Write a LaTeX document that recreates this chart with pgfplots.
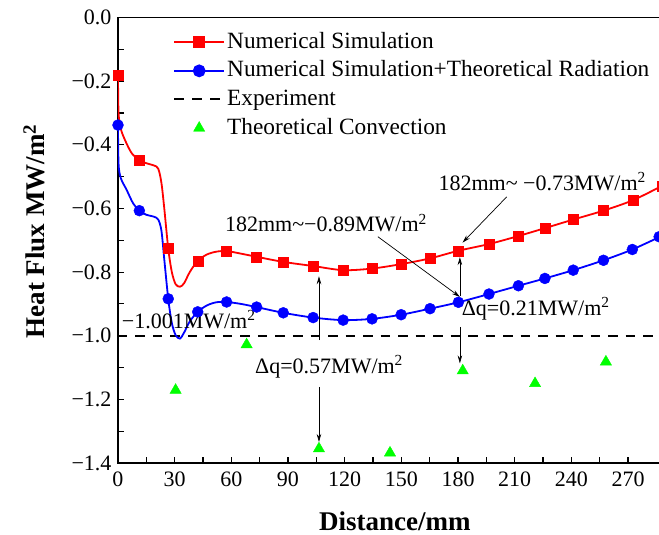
\documentclass[border=0pt]{standalone}
\usepackage{fontspec}
\setmainfont{Liberation Serif}
\usepackage{pgfplots}
\pgfplotsset{compat=1.18}
\usetikzlibrary{arrows.meta}

\definecolor{simred}{RGB}{255,0,0}
\definecolor{simblue}{RGB}{0,0,255}
\definecolor{convgreen}{RGB}{0,255,0}

\newcommand{\ann}{\fontsize{22bp}{26bp}\selectfont}

\begin{document}
\begin{tikzpicture}
\begin{axis}[
  scale only axis,
  width=544bp, height=445.5bp,
  xmin=0, xmax=288, ymin=-1.4, ymax=0,
  xtick={0,30,60,90,120,150,180,210,240,270},
  minor x tick num=1,
  ytick={-1.4,-1.2,-1.0,-0.8,-0.6,-0.4,-0.2,0},
  yticklabels={−1.4,−1.2,−1.0,−0.8,−0.6,−0.4,−0.2,0.0},
  minor y tick num=1,
  tick pos=left, tick align=inside,
  major tick length=6bp, minor tick length=6bp,
  every tick/.style={black, line width=1.1bp},
  axis line style={line width=1.2bp},
  /pgf/number format/assume math mode=true,
  ticklabel style={font=\fontsize{22bp}{26bp}\selectfont},
  xticklabel style={yshift=-5bp},
  yticklabel style={xshift=-3bp},
  xlabel={\textbf{Distance/mm}},
  ylabel={\textbf{Heat Flux MW/m\textsuperscript{2}}},
  every axis x label/.style={at={(axis description cs:0.509,-0.151)}, anchor=base, font=\fontsize{27bp}{32bp}\selectfont},
  every axis y label/.style={at={(axis description cs:-0.1342,0.52)}, anchor=base, rotate=90, font=\fontsize{27bp}{32bp}\selectfont},
  legend style={at={(axis description cs:0.1011,0.977)}, anchor=north west,
    draw=none, fill=none, inner sep=0pt,
    font=\fontsize{23.3bp}{27bp}\selectfont,
    nodes={inner xsep=2bp, inner ysep=2.3bp, text height=18bp, text depth=6bp}},
  legend cell align=left,
  legend image code/.code={\draw[mark repeat=2,mark phase=2,#1] plot coordinates {(0bp,0bp)(25bp,0bp)(50bp,0bp)};},
]

\addlegendimage{simred, line width=1.8bp, mark=square*, mark size=5bp}
\addlegendentry{Numerical Simulation}
\addlegendimage{simblue, line width=1.8bp, mark=*, mark size=5.5bp}
\addlegendentry{Numerical Simulation+Theoretical Radiation}
\addlegendimage{black, line width=2bp, dash pattern=on 10bp off 8bp}
\addlegendentry{Experiment}
\addlegendimage{only marks, convgreen, mark=triangle*, mark size=6.5bp}
\addlegendentry{Theoretical Convection}

% experiment
\addplot[black, line width=2bp, dash pattern=on 9.5bp off 8bp, forget plot]
  coordinates {(0,-1.0) (288,-1.0)};

% numerical simulation
\addplot[simred, line width=1.8bp, smooth, forget plot] coordinates {
  (0,-0.181) (0.3,-0.30) (1.5,-0.35) (3.7,-0.385) (7.2,-0.426) (11.3,-0.448)
  (15,-0.458) (19,-0.465) (21.3,-0.475) (23,-0.52) (24.5,-0.60) (26.6,-0.726)
  (28.5,-0.80) (30.5,-0.838) (32.8,-0.846) (35,-0.835) (38,-0.80) (42.2,-0.765)
  (47,-0.745) (52,-0.736) (57.5,-0.734) (65,-0.742) (73.4,-0.752) (87.5,-0.768)
  (103.3,-0.781) (119.2,-0.794) (134.5,-0.789) (149.9,-0.775) (165.2,-0.757)
  (180.2,-0.733) (196.4,-0.712) (211.8,-0.687) (226,-0.662) (241,-0.635)
  (257,-0.607) (272.7,-0.574) (288,-0.529)};
\addplot[simred, only marks, mark=square*, mark size=5bp, forget plot] coordinates {
  (0,-0.181) (11.3,-0.448) (26.6,-0.726) (42.2,-0.765) (57.5,-0.734) (73.4,-0.752)
  (87.5,-0.768) (103.3,-0.781) (119.2,-0.794) (134.5,-0.789) (149.9,-0.775)
  (165.2,-0.757) (180.2,-0.733) (196.4,-0.712) (211.8,-0.687) (226,-0.662)
  (241,-0.635) (257,-0.607) (272.7,-0.574) (288,-0.529)};

% numerical simulation + theoretical radiation
\addplot[simblue, line width=1.8bp, smooth, forget plot] coordinates {
  (0,-0.338) (0.3,-0.46) (1.5,-0.505) (4.6,-0.542) (8,-0.584) (11.3,-0.607)
  (15,-0.62) (19,-0.626) (21.3,-0.635) (23,-0.67) (24.5,-0.76) (26.6,-0.884)
  (28.5,-0.96) (30.5,-0.998) (32.8,-1.009) (35,-0.99) (38,-0.955) (42.2,-0.925)
  (47,-0.905) (52,-0.895) (57.5,-0.894) (65,-0.900) (73.4,-0.910) (87.5,-0.928)
  (103.3,-0.943) (119.2,-0.951) (134.5,-0.947) (149.9,-0.934) (165.2,-0.915)
  (180.2,-0.895) (196.4,-0.869) (212,-0.843) (226,-0.820) (241,-0.794)
  (257,-0.763) (272.3,-0.729) (288,-0.686)};
\addplot[simblue, only marks, mark=*, mark size=5.5bp, forget plot] coordinates {
  (0,-0.338) (11.3,-0.607) (26.6,-0.884) (42.2,-0.925) (57.5,-0.894) (73.4,-0.910)
  (87.5,-0.928) (103.3,-0.943) (119.2,-0.951) (134.5,-0.947) (149.9,-0.934)
  (165.2,-0.915) (180.2,-0.895) (196.4,-0.869) (212,-0.843) (226,-0.820)
  (241,-0.794) (257,-0.763) (272.3,-0.729) (286.5,-0.689)};

% theoretical convection
\addplot[convgreen, only marks, mark=triangle*, mark size=6.5bp, forget plot] coordinates {
  (30.5,-1.171) (68.1,-1.028) (106.4,-1.355) (144,-1.368) (182.5,-1.110)
  (220.8,-1.150) (258.3,-1.082)};

% annotations
\node[anchor=base west, inner sep=0pt, font=\ann] at (axis cs:1.95,-0.977) {−1.001MW/m\textsuperscript{2}};
\node[anchor=base west, inner sep=0pt, font=\ann] at (axis cs:56.6,-0.6736) {182mm\textasciitilde−0.89MW/m\textsuperscript{2}};
\node[anchor=base west, inner sep=0pt, font=\ann] at (axis cs:169.6,-0.5425) {182mm\textasciitilde\ −0.73MW/m\textsuperscript{2}};
\node[anchor=base west, inner sep=0pt, font=\ann] at (axis cs:72.5,-1.118) {Δq=0.57MW/m\textsuperscript{2}};
\node[anchor=base west, inner sep=0pt, font=\ann] at (axis cs:181.9,-0.9355) {Δq=0.21MW/m\textsuperscript{2}};

\draw[-{Stealth[length=8bp,width=4.5bp]}, line width=0.7bp] (axis cs:137.6,-0.689) -- (axis cs:181,-0.878);
\draw[-{Stealth[length=8bp,width=4.5bp]}, line width=0.7bp] (axis cs:205.8,-0.5635) -- (axis cs:182.4,-0.7075);
\draw[-{Stealth[length=8bp,width=4.5bp]}, line width=0.7bp] (axis cs:106.4,-1.014) -- (axis cs:106.4,-0.813);
\draw[-{Stealth[length=8bp,width=4.5bp]}, line width=0.7bp] (axis cs:106.4,-1.161) -- (axis cs:106.4,-1.334);
\draw[-{Stealth[length=8bp,width=4.5bp]}, line width=0.7bp] (axis cs:181,-0.876) -- (axis cs:181,-0.753);
\draw[-{Stealth[length=8bp,width=4.5bp]}, line width=0.7bp] (axis cs:181,-0.972) -- (axis cs:181,-1.087);

\end{axis}
\pgfresetboundingbox
\path[use as bounding box] (-118bp,-72bp) rectangle (541bp,463bp);
\end{tikzpicture}
\end{document}
